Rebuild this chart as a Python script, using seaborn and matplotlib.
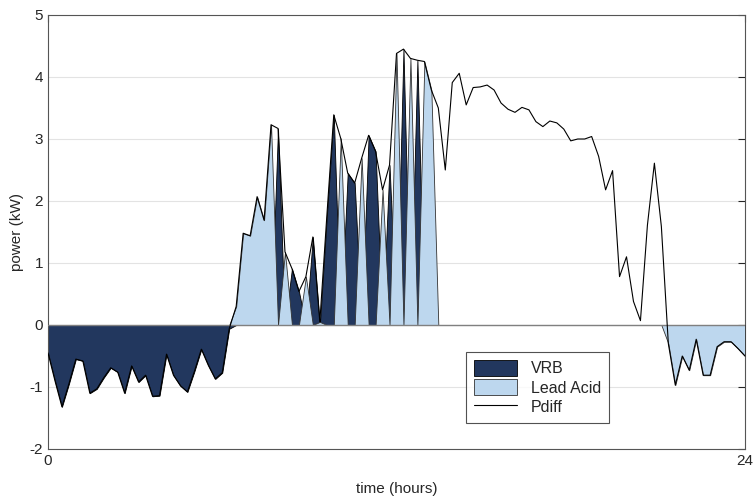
import numpy as np
import pandas as pd
import seaborn as sns
import matplotlib.pyplot as plt
from matplotlib.patches import Patch
from matplotlib.lines import Line2D

# power balance over one day, 101 samples (0..24 h)
pdiff = [-0.45, -0.90, -1.32, -0.95, -0.55, -0.58, -1.10, -1.03, -0.85, -0.69,
         -0.76, -1.10, -0.66, -0.92, -0.81, -1.15, -1.14, -0.47, -0.81, -0.98,
         -1.08, -0.75, -0.39, -0.65, -0.87, -0.77, -0.06, 0.30, 1.48, 1.44,
         2.07, 1.69, 3.23, 3.17, 1.18, 0.91, 0.54, 0.78, 1.42, 0.05,
         1.75, 3.39, 3.01, 2.45, 2.29, 2.69, 3.06, 2.80, 2.18, 2.58,
         4.38, 4.45, 4.30, 4.27, 4.25, 3.79, 3.50, 2.50, 3.91, 4.06,
         3.55, 3.83, 3.84, 3.87, 3.79, 3.58, 3.48, 3.43, 3.51, 3.47,
         3.28, 3.20, 3.29, 3.26, 3.16, 2.97, 3.00, 3.00, 3.04, 2.72,
         2.18, 2.49, 0.78, 1.10, 0.38, 0.07, 1.61, 2.61, 1.59, -0.30,
         -0.97, -0.50, -0.73, -0.23, -0.81, -0.81, -0.35, -0.27, -0.27, -0.38,
         -0.50]

vrb = [-0.45, -0.90, -1.32, -0.95, -0.55, -0.58, -1.10, -1.03, -0.85, -0.69,
       -0.76, -1.10, -0.66, -0.92, -0.81, -1.15, -1.14, -0.47, -0.81, -0.98,
       -1.08, -0.75, -0.39, -0.65, -0.87, -0.77, -0.06, 0, 0, 0,
       0, 0, 0, 3.17, 0, 0.91, 0.54, 0, 1.42, 0,
       1.75, 3.39, 0, 2.45, 2.29, 0, 3.06, 2.80, 0, 2.58,
       0, 4.45, 0, 4.27, 0, 0, 0, 0, 0, 0,
       0, 0, 0, 0, 0, 0, 0, 0, 0, 0,
       0, 0, 0, 0, 0, 0, 0, 0, 0, 0,
       0, 0, 0, 0, 0, 0, 0, 0, 0, 0,
       0, 0, 0, 0, 0, 0, 0, 0, 0, 0,
       0]

lead_acid = [0, 0, 0, 0, 0, 0, 0, 0, 0, 0,
             0, 0, 0, 0, 0, 0, 0, 0, 0, 0,
             0, 0, 0, 0, 0, 0, 0, 0.30, 1.48, 1.44,
             2.07, 1.69, 3.23, 0, 1.18, 0, 0, 0.78, 0, 0.05,
             0, 0, 3.01, 0, 0, 2.69, 0, 0, 2.18, 0,
             4.38, 0, 4.30, 0, 4.25, 3.79, 0, 0, 0, 0,
             0, 0, 0, 0, 0, 0, 0, 0, 0, 0,
             0, 0, 0, 0, 0, 0, 0, 0, 0, 0,
             0, 0, 0, 0, 0, 0, 0, 0, 0, -0.30,
             -0.97, -0.50, -0.73, -0.23, -0.81, -0.81, -0.35, -0.27, -0.27, -0.38,
             -0.50]

hours = np.linspace(0, 24, len(pdiff))
df = pd.DataFrame({'hours': hours, 'Pdiff': pdiff, 'VRB': vrb, 'Lead Acid': lead_acid})

VRB_COLOR = '#22375e'
LEAD_COLOR = '#bdd7ee'

sns.set_style('white')
plt.rcParams['font.family'] = ['Liberation Sans', 'DejaVu Sans']
plt.rcParams['axes.unicode_minus'] = False

fig = plt.figure(figsize=(7.53, 4.99), dpi=100)
ax = fig.add_axes([48 / 753, 50 / 499, 697 / 753, 434 / 499])

# gridlines and baseline
for yv in range(-2, 6):
    ax.axhline(yv, color='#e3e3e3', lw=0.8, zorder=0)

ax.fill_between(df['hours'], 0, df['VRB'], facecolor=VRB_COLOR,
                edgecolor='black', lw=0.6, zorder=2)
ax.fill_between(df['hours'], 0, df['Lead Acid'], facecolor=LEAD_COLOR,
                edgecolor='#333333', lw=0.6, zorder=3)
ax.axhline(0, color='#808080', lw=1.0, zorder=4)
sns.lineplot(data=df, x='hours', y='Pdiff', color='black', lw=0.8, ax=ax, zorder=5)

ax.set_xlim(0, 24)
ax.set_ylim(-2, 5)
ax.set_xticks([0, 24])
ax.set_yticks(range(-2, 6))
ax.set_xlabel('time (hours)', fontsize=11, color='#262626', labelpad=10)
ax.set_ylabel('power (kW)', fontsize=11, color='#262626', labelpad=4)
ax.tick_params(axis='both', direction='in', length=5, width=0.8,
               labelsize=11, colors='#262626', top=True, right=True)
for s in ax.spines.values():
    s.set_color('#555555')
    s.set_linewidth(0.8)

handles = [Patch(facecolor=VRB_COLOR, edgecolor='black', lw=0.6),
           Patch(facecolor=LEAD_COLOR, edgecolor='#333333', lw=0.6),
           Line2D([], [], color='black', lw=0.8)]
leg = ax.legend(handles, ['VRB', 'Lead Acid', 'Pdiff'], loc='upper left',
                bbox_to_anchor=(0.600, 0.223), fontsize=11.5, frameon=True,
                fancybox=False, edgecolor='#262626', handlelength=2.7,
                handleheight=1.1, labelspacing=0.2, borderpad=0.5,
                handletextpad=0.85, borderaxespad=0)
leg.get_frame().set_linewidth(0.8)

fig.savefig('out.png', dpi=100)
